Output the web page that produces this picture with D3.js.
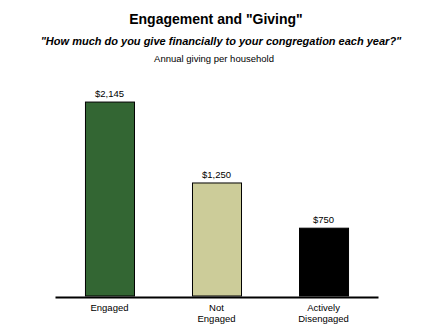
<!DOCTYPE html>
<html>
<head>
<meta charset="utf-8">
<script src="https://cdn.jsdelivr.net/npm/d3@7"></script>
<style>
  body { margin: 0; background: #fff; }
  text { font-family: "Liberation Sans", Arial, sans-serif; fill: #000; }
</style>
</head>
<body>
<svg width="440" height="330"></svg>
<script>
const width = 440;
const height = 330;

const categories = ["Engaged", "Not Engaged", "Actively Disengaged"];
const categoryLines = [["Engaged"], ["Not", "Engaged"], ["Actively", "Disengaged"]];
const giving = [2145, 1250, 750];
const valueLabels = ["$2,145", "$1,250", "$750"];
const barColors = ["#336633", "#cccc99", "#000000"];

const svg = d3.select("svg");

let x = d3
  .scaleBand()
  .domain(categories)
  .range([55, 378])
  .paddingInner(0.542)
  .paddingOuter(0.28);

let y = d3
  .scaleLinear()
  .domain([0, 2400])
  .range([296, 79]);

// titles
svg.append("text")
  .attr("x", 216)
  .attr("y", 24)
  .attr("text-anchor", "middle")
  .style("font-size", "14px")
  .style("font-weight", "bold")
  .text('Engagement and "Giving"');

svg.append("text")
  .attr("x", 221)
  .attr("y", 45)
  .attr("text-anchor", "middle")
  .style("font-size", "11px")
  .style("font-weight", "bold")
  .style("font-style", "italic")
  .text('"How much do you give financially to your congregation each year?"');

svg.append("text")
  .attr("x", 214)
  .attr("y", 62)
  .attr("text-anchor", "middle")
  .style("font-size", "9.5px")
  .text("Annual giving per household");

const g = svg.append("g");

g.selectAll(".bar")
  .data(giving)
  .join("rect")
  .attr("class", "bar")
  .attr("x", (d, i) => x(categories[i]) + 0.5)
  .attr("y", d => y(d))
  .attr("width", x.bandwidth())
  .attr("height", d => y(0) - y(d))
  .attr("fill", (d, i) => barColors[i])
  .attr("stroke", "black")
  .attr("stroke-width", 1);

g.selectAll(".val")
  .data(giving)
  .join("text")
  .attr("class", "val")
  .attr("x", (d, i) => x(categories[i]) + x.bandwidth() / 2)
  .attr("y", d => y(d) - 5)
  .attr("text-anchor", "middle")
  .style("font-size", "9.5px")
  .text((d, i) => valueLabels[i]);

// x axis
const axis = svg.append("g")
  .attr("transform", `translate(0,${y(0) + 1})`)
  .call(d3.axisBottom(x).tickSize(0).tickSizeOuter(0).tickFormat(""));

axis.select(".domain")
  .attr("stroke", "black")
  .attr("stroke-width", 2);

axis.selectAll(".tick text").remove();

axis.selectAll(".tick")
  .append("text")
  .attr("text-anchor", "middle")
  .style("font-size", "9.5px")
  .each(function(d, i) {
    d3.select(this)
      .selectAll("tspan")
      .data(categoryLines[i])
      .join("tspan")
      .attr("x", 0)
      .attr("y", (t, j) => 14 + j * 11)
      .text(t => t);
  });
</script>
</body>
</html>
